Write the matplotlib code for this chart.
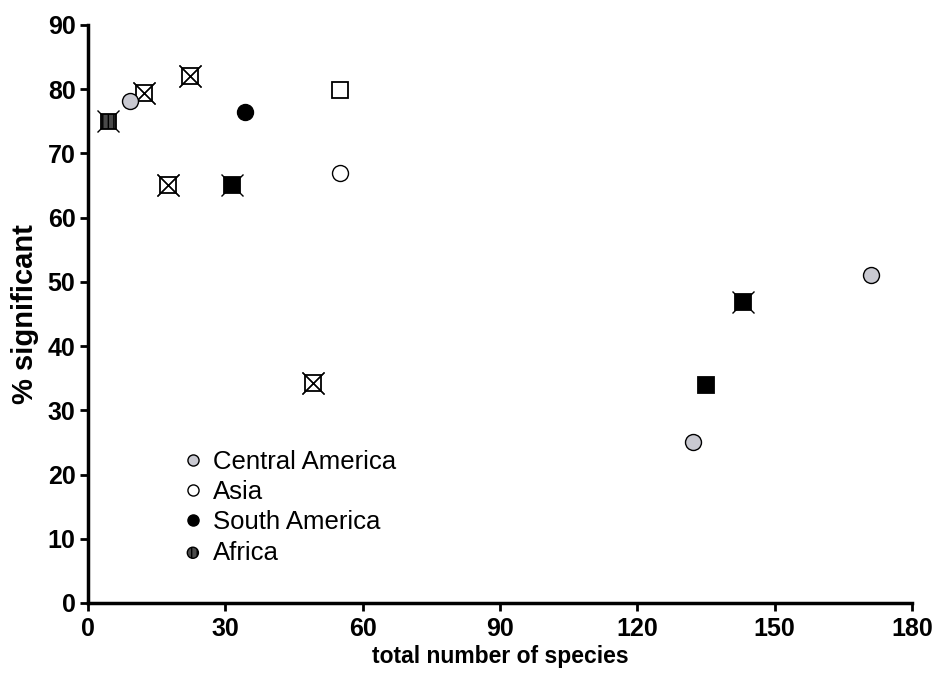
import matplotlib
matplotlib.use('Agg')
import matplotlib.pyplot as plt
from matplotlib.lines import Line2D

plt.rcParams['font.family'] = ['Liberation Sans', 'DejaVu Sans']

# circles, by region
central_x = [9.2, 132.1, 171]
central_y = [78.1, 25, 51.1]
asia_x = [55]
asia_y = [66.9]
south_x = [34.3]
south_y = [76.5]

# squares
open_sq_x = [55]
open_sq_y = [79.9]
black_sq_x = [135.1]
black_sq_y = [34]

# crossed squares
cross_white_x = [12.2, 22.3, 17.5, 49.1]
cross_white_y = [79.4, 82.1, 65.1, 34.3]
cross_black_x = [31.4, 143]
cross_black_y = [65.1, 46.9]
cross_africa_x = [4.4]
cross_africa_y = [75]

legend_labels = ['Central America', 'Asia', 'South America', 'Africa']

gray = '#c9c9d1'
dark = '#4a4a4a'

fig = plt.figure(figsize=(9.46, 6.88), dpi=100)
ax = fig.add_axes([88 / 946, 85 / 688, 824 / 946, 578 / 688])

# crosses behind squares
ax.plot(cross_white_x + cross_black_x + cross_africa_x,
        cross_white_y + cross_black_y + cross_africa_y,
        'x', ms=16.5, mew=1.0, color='black', zorder=2)
ax.plot(cross_white_x, cross_white_y, 's', ms=11, mfc='none', mec='black', mew=1.3, zorder=3)
ax.plot(cross_black_x, cross_black_y, 's', ms=11, mfc='black', mec='black', mew=1.3, zorder=3)
ax.scatter(cross_africa_x, cross_africa_y, marker='s', s=11 ** 2, facecolor=dark,
           edgecolor='black', hatch='|||', linewidth=1.3, zorder=3)
# X again over open squares
ax.plot(cross_white_x, cross_white_y, 'x', ms=16.5, mew=1.0, color='black', zorder=4)

ax.plot(open_sq_x, open_sq_y, 's', ms=11, mfc='white', mec='black', mew=1.3, zorder=3)
ax.plot(black_sq_x, black_sq_y, 's', ms=11, mfc='black', mec='black', mew=1.3, zorder=3)

ax.plot(central_x, central_y, 'o', ms=11.5, mfc=gray, mec='black', mew=1.0, zorder=5)
ax.plot(asia_x, asia_y, 'o', ms=11.5, mfc='white', mec='black', mew=1.0, zorder=5)
ax.plot(south_x, south_y, 'o', ms=11.5, mfc='black', mec='black', mew=1.0, zorder=5)

ax.set_xlim(0, 180)
ax.set_ylim(0, 90)
ax.set_xticks(range(0, 181, 30))
ax.set_yticks(range(0, 91, 10))
for s in ['top', 'right']:
    ax.spines[s].set_visible(False)
for s in ['left', 'bottom']:
    ax.spines[s].set_linewidth(2.5)
ax.tick_params(direction='out', length=6, width=2, labelsize=18, pad=3)
ax.tick_params(axis='x', pad=4)
for lab in ax.get_xticklabels() + ax.get_yticklabels():
    lab.set_fontweight('bold')

ax.set_xlabel('total number of species', fontsize=16.5, fontweight='bold')
ax.set_ylabel('% significant', fontsize=21, fontweight='bold')
ax.xaxis.set_label_coords(0.5, (603 - 645) / 578)
ax.yaxis.set_label_coords((39 - 88) / 824, 0.5)

# legend with small circles
h_central = Line2D([], [], ls='none', marker='o', ms=8, mfc=gray, mec='black', mew=1.0)
h_asia = Line2D([], [], ls='none', marker='o', ms=8, mfc='white', mec='black', mew=1.0)
h_south = Line2D([], [], ls='none', marker='o', ms=8, mfc='black', mec='black', mew=1.0)
h_africa = ax.scatter([], [], marker='o', s=64, facecolor=dark, edgecolor='black',
                      hatch='|||', linewidth=1.0)
leg = ax.legend([h_central, h_asia, h_south, h_africa], legend_labels,
                loc='upper left', bbox_to_anchor=(180 / 946, 1 - 450 / 688),
                bbox_transform=fig.transFigure, frameon=False, fontsize=18.5,
                handletextpad=0.3, labelspacing=0.24, handlelength=1.0,
                borderaxespad=0, borderpad=0)

fig.savefig('out.png', dpi=100)
